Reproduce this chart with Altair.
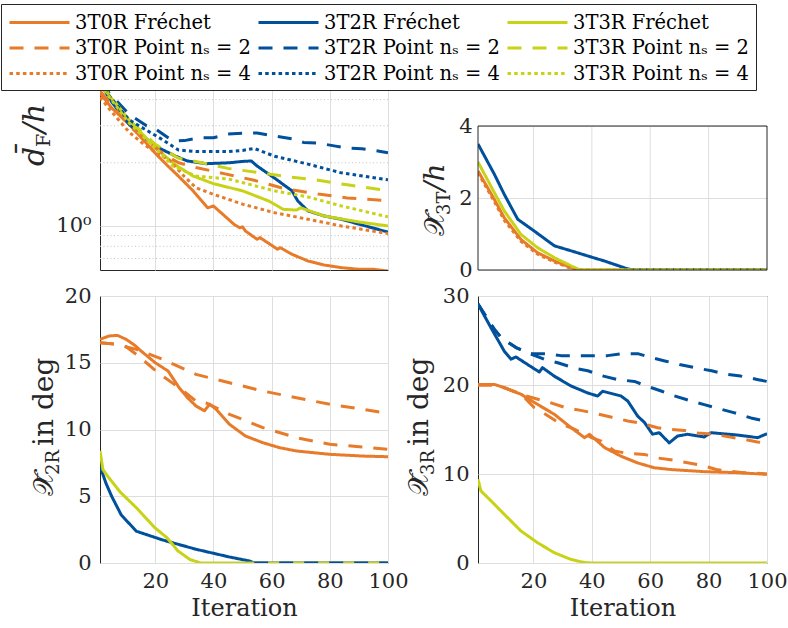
import altair as alt
import pandas as pd

FONT = "DejaVu Serif"
INK = "#262626"
GRID = "#dedede"
MINOR = "#c4c4c4"
ORANGE, BLUE, GREEN = "#E77B29", "#00509B", "#C8D317"

SERIES = ["3T0R Fréchet", "3T0R Point nₛ = 2", "3T0R Point nₛ = 4",
          "3T2R Fréchet", "3T2R Point nₛ = 2", "3T2R Point nₛ = 4",
          "3T3R Fréchet", "3T3R Point nₛ = 2", "3T3R Point nₛ = 4"]
COLORS = [ORANGE] * 3 + [BLUE] * 3 + [GREEN] * 3
DASHES = [[1, 0], [14, 11], [3.5, 3.2]] * 3

X_TICKS = [20, 40, 60, 80, 100]

# ---------------- top-left: mean Frechet distance d_F/h (log) ----------------
tl_0R_fre_it = [1, 5, 11, 13, 20, 24, 27, 33, 38, 40, 47, 49, 50, 51, 55, 56, 62, 63, 67, 72.5, 78, 84, 90, 95, 100]
tl_0R_fre_v = [4.3, 3.65, 3.05, 2.85, 2.22, 1.95, 1.78, 1.47, 1.22, 1.245, 1.02, 0.98, 0.99, 0.946, 0.864, 0.88,
               0.775, 0.788, 0.733, 0.681, 0.652, 0.633, 0.622, 0.622, 0.61]
tl_0R_p2_it = [1, 11, 20, 25, 28, 34, 44, 54, 64, 76, 86, 98, 100]
tl_0R_p2_v = [4.4, 3.0, 2.35, 2.11, 2.0, 1.9, 1.77, 1.65, 1.51, 1.42, 1.36, 1.325, 1.31]
tl_0R_p4_it = [1, 5, 11, 16, 20, 25, 30, 34, 40, 50, 61, 72.5, 84, 100]
tl_0R_p4_v = [4.1, 3.5, 2.8, 2.45, 2.25, 2.05, 1.72, 1.52, 1.415, 1.27, 1.157, 1.076, 1.0, 0.92]
tl_2R_fre_it = [1, 5, 11, 20, 27, 31, 37.5, 45.5, 50, 53, 55, 61, 67, 69, 72.5, 78, 84, 90, 100]
tl_2R_fre_v = [4.8, 3.9, 3.05, 2.4, 2.15, 2.04, 1.98, 2.0, 2.03, 2.04, 1.93, 1.69, 1.47, 1.315, 1.18, 1.116, 1.076,
               1.02, 0.935]
tl_2R_p2_it = [1, 11, 17, 20, 25, 27, 30, 35, 40, 45, 51, 55, 61, 67, 71, 76, 82, 86, 91, 97, 100]
tl_2R_p2_v = [4.8, 3.4, 3.0, 2.9, 2.6, 2.54, 2.55, 2.63, 2.63, 2.74, 2.77, 2.77, 2.68, 2.6, 2.5, 2.48, 2.4, 2.35,
              2.33, 2.27, 2.23]
tl_2R_p4_it = [1, 11, 22, 28, 34, 45, 50, 54, 61, 72.5, 84, 100]
tl_2R_p4_v = [4.7, 3.2, 2.6, 2.3, 2.26, 2.26, 2.29, 2.34, 2.15, 1.97, 1.79, 1.66]
tl_3R_fre_it = [1, 4.3, 11, 20, 27, 33, 40, 50, 59, 64, 68.5, 70, 78, 90, 100]
tl_3R_fre_v = [4.8, 4.16, 3.2, 2.36, 1.95, 1.73, 1.59, 1.47, 1.315, 1.2, 1.19, 1.22, 1.116, 1.045, 1.0]
tl_3R_p2_it = [1, 11, 20, 28, 33, 36, 45, 55, 65, 75, 86, 96, 100]
tl_3R_p2_v = [4.8, 3.2, 2.45, 2.1, 2.04, 2.0, 1.88, 1.8, 1.72, 1.66, 1.57, 1.5, 1.47]
tl_3R_p4_it = [1, 11, 20, 26, 34, 45.5, 50, 61, 72.5, 84, 100]
tl_3R_p4_v = [4.7, 3.1, 2.35, 1.93, 1.73, 1.67, 1.61, 1.47, 1.375, 1.245, 1.105]
tl_minor_grid = [0.7, 0.8, 0.9, 2, 3, 4, 5, 6, 7, 8, 9]

# ---------------- top-right: translational error X_3T/h ----------------
tr_0R_fre_it = [1, 6.6, 10, 15.7, 21.4, 27.2, 33, 35, 100]
tr_0R_fre_v = [2.75, 1.96, 1.45, 0.85, 0.48, 0.25, 0.065, 0, 0]
tr_0R_p4_it = [1, 6.6, 10, 15.7, 21.4, 27.2, 33, 34, 100]
tr_0R_p4_v = [2.7, 1.9, 1.38, 0.8, 0.44, 0.22, 0.04, 0, 0]
tr_2R_fre_it = [1, 6.6, 10, 14.6, 20.3, 27.2, 33, 38.6, 44.3, 51.2, 54, 100]
tr_2R_fre_v = [3.5, 2.66, 2.1, 1.41, 1.08, 0.67, 0.53, 0.39, 0.25, 0.06, 0, 0]
tr_2R_p4_it = [54, 100]
tr_2R_p4_v = [0, 0]
tr_3R_fre_it = [1, 6.6, 10, 15.7, 21.4, 27.2, 33, 36, 100]
tr_3R_fre_v = [3.0, 2.15, 1.64, 0.99, 0.62, 0.34, 0.11, 0, 0]
tr_3R_p4_it = [36, 100]
tr_3R_p4_v = [0, 0]

# ---------------- bottom-left: X_2R in deg ----------------
bl_0R_fre_it = [1, 4, 7, 10, 13, 15, 20, 24.4, 28.2, 31, 34, 36.9, 38.7, 41, 45.5, 51, 57, 62.7, 68.5, 80, 91.4, 100]
bl_0R_fre_v = [16.75, 17.0, 17.05, 16.75, 16.3, 15.9, 15.0, 14.38, 13.13, 12.4, 11.76, 11.4, 11.9, 11.5, 10.39, 9.51,
               9.01, 8.64, 8.39, 8.14, 8.01, 7.96]
bl_0R_p2a_it = [1, 6, 13.5, 22.5, 34, 45.5, 57, 68.5, 80, 91.4, 100]
bl_0R_p2a_v = [16.5, 16.4, 16.0, 15.26, 14.13, 13.5, 12.88, 12.38, 11.89, 11.51, 11.2]
bl_0R_p2b_it = [1, 6, 10, 13.5, 20.3, 22.5, 28.2, 34, 37.4, 45.5, 57, 68.5, 80, 91.4, 100]
bl_0R_p2b_v = [16.5, 16.4, 16.2, 15.63, 14.38, 14.0, 13.13, 12.13, 12.0, 11.14, 10.14, 9.39, 8.89, 8.69, 8.52]
bl_2R_fre_it = [1, 3, 5, 8.3, 13.5, 22.6, 34, 45.5, 52.4, 54, 100]
bl_2R_fre_v = [7.27, 6.0, 5.0, 3.6, 2.38, 1.72, 1.03, 0.45, 0.15, 0, 0]
bl_2R_p2_it = [54, 100]
bl_2R_p2_v = [0, 0]
bl_3R_fre_it = [1, 2, 4, 8, 13.5, 19.8, 24, 27.8, 32, 35.7, 100]
bl_3R_fre_v = [8.4, 7.0, 6.4, 5.3, 4.14, 2.65, 1.9, 0.9, 0.25, 0, 0]

# ---------------- bottom-right: X_3R in deg ----------------
br_0R_fre_it = [1, 6.6, 10, 15.8, 21.5, 27.2, 32.9, 37.5, 39.2, 44.4, 50, 55.7, 61.4, 67.1, 78.5, 89.9, 100]
br_0R_fre_v = [20.07, 20.07, 19.7, 18.95, 17.8, 16.7, 15.2, 14.08, 14.46, 12.96, 12.0, 11.24, 10.7, 10.5, 10.26, 10.15,
               9.96]
br_0R_p2a_it = [1, 6, 10, 15.8, 21.5, 26, 31, 36.2, 41.4, 46.5, 52.3, 56.8, 62.5, 67, 71.6, 76.3, 81.8, 86.5, 92,
                96.7, 100]
br_0R_p2a_v = [20.0, 20.0, 19.7, 18.95, 18.4, 18.0, 17.45, 17.15, 16.8, 16.4, 15.96, 15.7, 15.2, 15.0, 14.9, 14.6,
               14.46, 14.2, 13.9, 13.6, 13.5]
br_0R_p2b_it = [1, 6, 10, 15.8, 20.3, 23.7, 29.4, 32.9, 39.8, 43.2, 47.7, 52.3, 58, 62.5, 67, 72.8, 78.5, 82.6, 87.6,
                92, 96, 100]
br_0R_p2b_v = [20.0, 20.0, 19.7, 18.95, 17.45, 16.8, 15.6, 15.2, 14.1, 13.7, 12.6, 12.3, 12.2, 11.8, 11.6, 11.27,
               10.9, 10.5, 10.3, 10.15, 10.1, 10.0]
br_2R_fre_it = [1, 5.5, 10, 12.3, 14, 18, 22, 23.1, 27.1, 32.8, 38.6, 42, 43.7, 50, 52.3, 55.7, 58, 60.8, 63.1, 66.5,
                69.4, 72.8, 78.5, 80.8, 89.9, 96.8, 100]
br_2R_fre_v = [29.1, 26.4, 23.8, 22.9, 23.15, 22.3, 21.46, 21.95, 21.0, 19.9, 19.1, 18.76, 19.3, 18.76, 18.2, 16.5,
               15.8, 14.47, 14.64, 13.5, 14.27, 14.46, 14.16, 14.64, 14.38, 14.08, 14.53]
br_2R_p2a_it = [1, 6.5, 9, 14, 19, 25, 29.4, 33, 38, 45.4, 50, 56, 60, 65, 70, 76, 81, 86, 91, 97, 100]
br_2R_p2a_v = [29.1, 26.3, 25.3, 24.2, 23.5, 23.5, 23.3, 23.3, 23.3, 23.3, 23.5, 23.5, 23.1, 22.7, 22.3, 21.9, 21.6,
               21.2, 21.0, 20.6, 20.4]
br_2R_p2b_it = [1, 6.5, 9, 14, 19, 23.7, 28.3, 34, 38.6, 44, 49, 54.6, 58.6, 64, 68, 74, 78.5, 84, 88.6, 94.5, 99,
                100]
br_2R_p2b_v = [29.1, 26.3, 25.3, 24.2, 23.5, 22.9, 22.5, 21.9, 21.6, 21.0, 20.6, 20.4, 19.9, 19.3, 18.8, 18.2, 17.8,
               17.3, 16.9, 16.3, 15.96, 15.9]
br_3R_fre_it = [1, 2, 5.5, 10, 15.7, 21.4, 27.1, 32.8, 37.4, 40, 100]
br_3R_fre_v = [9.4, 8.1, 6.97, 5.47, 3.6, 2.28, 1.16, 0.41, 0.05, 0, 0]

# ---------------- shared encodings ----------------
COLOR_SCALE = alt.Scale(domain=SERIES, range=COLORS)
DASH_SCALE = alt.Scale(domain=SERIES, range=DASHES)
LEGEND = alt.Legend(title=None, orient="none", legendX=-99, legendY=-12, columns=3,
                    symbolType="M-3,0H3", symbolSize=400, symbolStrokeWidth=3, symbolOffset=20,
                    labelFont=FONT, labelFontSize=19.5, labelColor="black", labelLimit=600,
                    labelOffset=24, fillColor="white", strokeColor=INK,
                    padding=7, columnPadding=1, rowPadding=4.5)
XS = alt.Scale(domain=[1, 100], nice=False, zero=False)


def x_axis(bottom, grid=True):
    if bottom:
        return alt.Axis(values=X_TICKS, title="Iteration", labelFlush=False, labelPadding=7,
                        titlePadding=5, titleFontSize=24, titleFont=FONT, titleFontWeight="normal",
                        titleColor=INK, grid=grid)
    return alt.Axis(values=X_TICKS, labels=False, title=None, grid=grid)


def line_layers(lines, ys, y_ax, x_ax):
    out = []
    for series, its, vals in lines:
        df = pd.DataFrame({"it": its, "v": vals, "series": series})
        out.append(
            alt.Chart(df).mark_line(strokeWidth=3, clip=True, strokeJoin="round").encode(
                x=alt.X("it:Q", scale=XS, axis=x_ax),
                y=alt.Y("v:Q", scale=ys, axis=y_ax),
                color=alt.Color("series:N", scale=COLOR_SCALE, legend=LEGEND),
                strokeDash=alt.StrokeDash("series:N", scale=DASH_SCALE, legend=LEGEND),
            )
        )
    return out


def y_label(parts, x0, y0):
    out = []
    for text, size, style, dx, dy in parts:
        out.append(
            alt.Chart(pd.DataFrame({"t": [text]})).mark_text(
                font=FONT, fontSize=size, fontStyle=style, angle=270, align="left",
                baseline="alphabetic", dx=dx, dy=dy, color=INK
            ).encode(text="t:N", x=alt.value(x0), y=alt.value(y0))
        )
    return out


# ---------------- top-left ----------------
TL_YS = alt.Scale(type="log", domain=[0.617, 10], nice=False)
TL_YAX = alt.Axis(values=[1], labelExpr="'10⁰'", title=None, grid=True, labelPadding=9)
tl_minor = alt.Chart(pd.DataFrame({"v": tl_minor_grid})).mark_rule(
    color=MINOR, strokeDash=[1, 2.5], strokeWidth=1).encode(y=alt.Y("v:Q", scale=TL_YS, axis=TL_YAX))
tl_lines = line_layers([
    (SERIES[0], tl_0R_fre_it, tl_0R_fre_v), (SERIES[3], tl_2R_fre_it, tl_2R_fre_v),
    (SERIES[6], tl_3R_fre_it, tl_3R_fre_v),
    (SERIES[1], tl_0R_p2_it, tl_0R_p2_v), (SERIES[4], tl_2R_p2_it, tl_2R_p2_v),
    (SERIES[7], tl_3R_p2_it, tl_3R_p2_v),
    (SERIES[2], tl_0R_p4_it, tl_0R_p4_v), (SERIES[5], tl_2R_p4_it, tl_2R_p4_v),
    (SERIES[8], tl_3R_p4_it, tl_3R_p4_v),
], TL_YS, TL_YAX, x_axis(False))
tl_lab = y_label([("d̄", 30, "italic", 0, 0), ("F", 19, "normal", 19, 6), ("/h", 30, "italic", 33, 0)], -56, 150)
TL = alt.layer(tl_minor, *tl_lines, *tl_lab).properties(width=288, height=254)

# ---------------- top-right (plot area is the lower 144 px of the cell) ----------------
TR_TOP = 4 * 254 / 144
TR_YS = alt.Scale(domain=[0, TR_TOP], nice=False)
TR_YAX = alt.Axis(values=[0, 2, 4], title=None, grid=True, labelPadding=6)
TR_XAX = x_axis(False, grid=False)
tr_vgrid = alt.Chart(pd.DataFrame({"it": [20, 40, 60, 80], "v": [0] * 4, "v2": [4] * 4})).mark_rule(
    color=GRID, strokeWidth=1).encode(x=alt.X("it:Q", scale=XS, axis=TR_XAX),
                                      y=alt.Y("v:Q", scale=TR_YS, axis=TR_YAX), y2="v2:Q")
tr_frame = alt.Chart(pd.DataFrame({"it": [1, 1, 1, 100], "it2": [100, 100, 1, 100],
                                   "v": [0, 4, 0, 0], "v2": [0, 4, 4, 4]})).mark_rule(
    color=INK, strokeWidth=1).encode(x=alt.X("it:Q", scale=XS, axis=TR_XAX), x2="it2:Q",
                                     y=alt.Y("v:Q", scale=TR_YS, axis=TR_YAX), y2="v2:Q")
tr_lines = line_layers([
    (SERIES[0], tr_0R_fre_it, tr_0R_fre_v), (SERIES[3], tr_2R_fre_it, tr_2R_fre_v),
    (SERIES[6], tr_3R_fre_it, tr_3R_fre_v),
    (SERIES[2], tr_0R_p4_it, tr_0R_p4_v), (SERIES[5], tr_2R_p4_it, tr_2R_p4_v),
    (SERIES[8], tr_3R_p4_it, tr_3R_p4_v),
], TR_YS, TR_YAX, TR_XAX)
tr_lab = y_label([("𝒳̄", 28, "normal", 0, 0), ("3T", 18, "normal", 21, 6), ("/h", 28, "italic", 45, 0)], -34, 220)
TR = alt.layer(tr_vgrid, *tr_lines, tr_frame, *tr_lab).properties(
    width=289, height=254, view=alt.ViewBackground(stroke="transparent"))

# ---------------- bottom-left ----------------
BL_YS = alt.Scale(domain=[0, 20], nice=False)
BL_YAX = alt.Axis(values=[0, 5, 10, 15, 20], title=None, grid=True, labelPadding=9)
bl_lines = line_layers([
    (SERIES[0], bl_0R_fre_it, bl_0R_fre_v), (SERIES[3], bl_2R_fre_it, bl_2R_fre_v),
    (SERIES[6], bl_3R_fre_it, bl_3R_fre_v),
    (SERIES[1], bl_0R_p2a_it, bl_0R_p2a_v), (SERIES[1], bl_0R_p2b_it, bl_0R_p2b_v),
    (SERIES[4], bl_2R_p2_it, bl_2R_p2_v),
], BL_YS, BL_YAX, x_axis(True))
bl_lab = y_label([("𝒳̄", 28, "normal", 0, 0), ("2R", 18, "normal", 21, 6), ("in deg", 28, "normal", 50, 0)],
                 -47, 200)
BL = alt.layer(*bl_lines, *bl_lab).properties(width=288, height=267)

# ---------------- bottom-right ----------------
BR_YS = alt.Scale(domain=[0, 30], nice=False)
BR_YAX = alt.Axis(values=[0, 10, 20, 30], title=None, grid=True, labelPadding=9)
br_lines = line_layers([
    (SERIES[0], br_0R_fre_it, br_0R_fre_v), (SERIES[3], br_2R_fre_it, br_2R_fre_v),
    (SERIES[6], br_3R_fre_it, br_3R_fre_v),
    (SERIES[1], br_0R_p2a_it, br_0R_p2a_v), (SERIES[1], br_0R_p2b_it, br_0R_p2b_v),
    (SERIES[4], br_2R_p2a_it, br_2R_p2a_v), (SERIES[4], br_2R_p2b_it, br_2R_p2b_v),
], BR_YS, BR_YAX, x_axis(True))
br_lab = y_label([("𝒳̄", 28, "normal", 0, 0), ("3R", 18, "normal", 21, 6), ("in deg", 28, "normal", 50, 0)],
                 -50, 200)
BR = alt.layer(*br_lines, *br_lab).properties(width=289, height=267)

chart = alt.concat(TL, TR, BL, BR, columns=2, spacing={"row": 26, "column": 90}, bounds="flush").properties(
    padding={"left": 0, "top": 3, "right": 0, "bottom": 0}
).configure_view(stroke=INK, strokeWidth=1).configure_axis(
    labelFont=FONT, labelFontSize=21, labelColor=INK, domain=False, ticks=False,
    gridColor=GRID, gridWidth=1, titleFont=FONT
)

chart.save("out.html", embed_options={"renderer": "svg", "actions": False})
